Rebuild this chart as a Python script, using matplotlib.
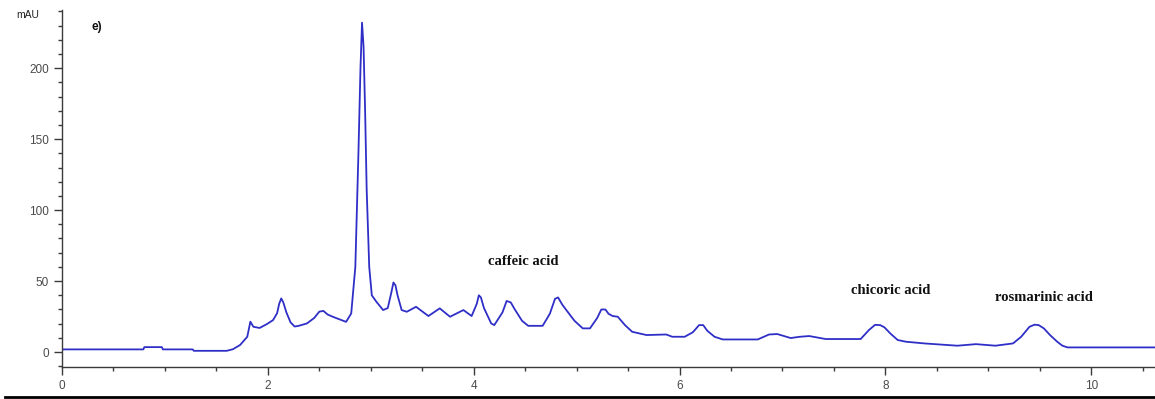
import matplotlib

matplotlib.use("Agg")
import matplotlib.pyplot as plt
from matplotlib.lines import Line2D
from matplotlib.ticker import MultipleLocator

OUTPUT_FILE = "out.png"
FIG_SIZE = (11.55, 3.99)
DPI = 100

# Chromatogram trace (retention time in min, mAU)
time_min = [
    0.00, 0.79, 0.80, 0.97, 0.98, 1.27, 1.28, 1.60, 1.66, 1.73,
    1.80, 1.83, 1.86, 1.92, 1.99, 2.05, 2.09, 2.11, 2.13, 2.15,
    2.18, 2.22, 2.26, 2.30, 2.38, 2.45, 2.50, 2.54, 2.58, 2.63,
    2.76, 2.81, 2.85, 2.88, 2.90, 2.915, 2.93, 2.945, 2.96, 2.985,
    3.01, 3.055, 3.12, 3.165, 3.20, 3.22, 3.24, 3.26, 3.30, 3.35,
    3.44, 3.56, 3.67, 3.77, 3.90, 3.98, 4.03, 4.05, 4.07, 4.10,
    4.17, 4.20, 4.28, 4.32, 4.36, 4.40, 4.47, 4.53, 4.67, 4.74,
    4.79, 4.82, 4.86, 4.90, 4.98, 5.06, 5.13, 5.20, 5.24, 5.28,
    5.31, 5.35, 5.40, 5.47, 5.54, 5.68, 5.87, 5.93, 6.05, 6.13,
    6.19, 6.23, 6.27, 6.34, 6.42, 6.76, 6.87, 6.95, 7.08, 7.17,
    7.26, 7.42, 7.76, 7.84, 7.90, 7.95, 7.99, 8.05, 8.12, 8.20,
    8.38, 8.70, 8.88, 9.07, 9.24, 9.32, 9.40, 9.45, 9.49, 9.54,
    9.60, 9.67, 9.72, 9.77, 10.62,
]
absorbance_mau = [
    1.9, 1.9, 3.5, 3.5, 1.9, 1.9, 0.9, 0.9, 2.0, 5.0,
    10.8, 21.4, 17.8, 17.0, 19.7, 22.5, 27.4, 34.0, 37.8, 35.0,
    28.0, 21.0, 18.0, 18.5, 20.2, 24.0, 28.5, 29.0, 26.5, 24.9,
    21.3, 27.2, 60.0, 140.0, 200.0, 232.0, 215.0, 170.0, 115.0, 60.0,
    40.0, 35.4, 29.6, 31.0, 42.0, 49.0, 47.0, 40.0, 29.6, 28.4,
    31.9, 25.4, 30.8, 24.9, 29.6, 25.4, 34.0, 40.0, 38.5, 31.0,
    20.2, 19.0, 28.0, 36.0, 35.0, 30.0, 22.0, 18.5, 18.5, 27.0,
    37.5, 38.5, 33.5, 29.6, 22.0, 16.7, 16.7, 24.0, 30.0, 30.0,
    27.0, 25.4, 24.9, 19.0, 14.3, 12.0, 12.4, 10.8, 10.8, 14.0,
    19.0, 19.0, 15.0, 10.8, 8.9, 8.9, 12.4, 12.7, 9.9, 10.8,
    11.3, 9.2, 9.2, 15.5, 19.2, 19.0, 17.5, 13.0, 8.5, 7.3,
    6.1, 4.5, 5.6, 4.5, 6.1, 10.8, 17.8, 19.3, 19.0, 16.7,
    12.0, 7.3, 4.5, 3.3, 3.3,
]

# Compound labels and where they sit
peak_names = ["caffeic acid", "chicoric acid", "rosmarinic acid"]
peak_label_x = [4.48, 8.05, 9.54]
peak_label_y = [63.6, 43.7, 38.7]

LINE_COLOR = "#2f2fc8"
AXIS_COLOR = "#3a3a3a"
TICK_LABEL_COLOR = "#4a4a4a"


def plot_chromatogram() -> None:
    fig = plt.figure(figsize=FIG_SIZE, dpi=DPI)
    ax = fig.add_axes([0.0537, 0.0802, 0.9463, 0.895])

    ax.plot(time_min, absorbance_mau, color=LINE_COLOR, linewidth=1.3)

    for name, x, y in zip(peak_names, peak_label_x, peak_label_y):
        ax.text(x, y, name, ha="center", va="center", fontsize=10.5,
                fontweight="bold", family="Liberation Serif", color="#111111")

    ax.text(0.34, 229, "e)", ha="center", va="center", fontsize=8.5,
            fontweight="bold", family="Liberation Sans", color="#111111")
    fig.text(28 / 1155, 1 - 15 / 399, "mAU", ha="center", va="center",
             fontsize=7.5, family="Liberation Sans", color="#222222")

    ax.set_xlim(0, 10.62)
    ax.set_ylim(-10.5, 241)

    ax.xaxis.set_major_locator(MultipleLocator(2))
    ax.xaxis.set_minor_locator(MultipleLocator(0.5))
    ax.yaxis.set_major_locator(MultipleLocator(50))
    ax.yaxis.set_minor_locator(MultipleLocator(10))

    for side in ("top", "right"):
        ax.spines[side].set_visible(False)
    for side in ("left", "bottom"):
        ax.spines[side].set_color(AXIS_COLOR)
        ax.spines[side].set_linewidth(1.0)

    ax.tick_params(which="major", direction="out", length=6, width=1,
                   color=AXIS_COLOR, labelcolor=TICK_LABEL_COLOR, labelsize=8.5)
    ax.tick_params(which="minor", direction="out", length=3, width=1,
                   color=AXIS_COLOR)
    for label in ax.get_xticklabels() + ax.get_yticklabels():
        label.set_family("Liberation Sans")

    # Heavy rule along the bottom edge of the figure
    fig.add_artist(Line2D([5 / 1155, 1.0], [0.006, 0.006], color="black",
                          linewidth=2.0, transform=fig.transFigure))

    fig.savefig(OUTPUT_FILE, dpi=DPI)
    plt.close(fig)


if __name__ == "__main__":
    plot_chromatogram()
